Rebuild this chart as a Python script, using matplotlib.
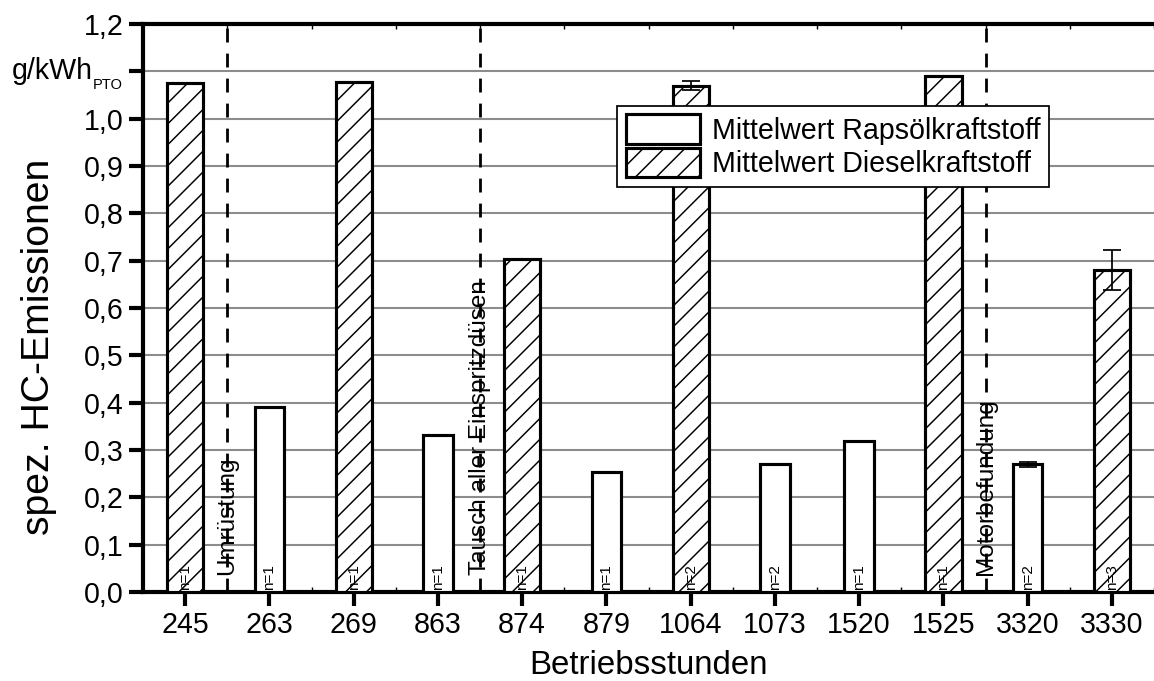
import matplotlib
matplotlib.use("Agg")
import matplotlib.pyplot as plt
from matplotlib.patches import Patch
from matplotlib.ticker import MultipleLocator
import numpy as np

plt.rcParams['font.family'] = ['Liberation Sans', 'DejaVu Sans']
plt.rcParams['hatch.linewidth'] = 0.85

# data
hours = ['245', '263', '269', '863', '874', '879', '1064', '1073', '1520', '1525', '3320', '3330']
fuel = ['D', 'R', 'D', 'R', 'D', 'R', 'D', 'R', 'R', 'D', 'R', 'D']
hc = [1.075, 0.39, 1.078, 0.332, 0.703, 0.253, 1.07, 0.27, 0.32, 1.09, 0.27, 0.68]
hc_err = [0, 0, 0, 0, 0, 0, 0.01, 0, 0, 0, 0.005, 0.043]
n_runs = [1, 1, 1, 1, 1, 1, 2, 2, 1, 1, 2, 3]

events = ['Umrüstung', 'Tausch aller Einspritzdüsen', 'Motorbefundung']
event_pos = [0.5, 3.5, 9.5]

yticks = np.arange(0, 1.21, 0.1)
ylabels = [f'{v:.1f}'.replace('.', ',') for v in yticks]
ylabels[11] = ''  # unit goes there instead, drawn below

# dpi 125 so the hatch spacing comes out like the reference
fig = plt.figure(figsize=(9.232, 5.448), dpi=125)
ax = fig.add_axes([0.124, 0.1307, 0.876, 0.8341])

x = np.arange(len(hours))
for i in range(len(hours)):
    if fuel[i] == 'D':
        ax.bar(x[i], hc[i], width=0.43, facecolor='white', edgecolor='black',
               linewidth=1.8, hatch='//', zorder=3)
    else:
        ax.bar(x[i], hc[i], width=0.35, facecolor='white', edgecolor='black',
               linewidth=1.8, zorder=3)
    if hc_err[i] > 0:
        ax.errorbar(x[i], hc[i], yerr=hc_err[i], fmt='none', ecolor='black',
                    elinewidth=1.0, capsize=5, capthick=1.0, zorder=4)
    ax.text(x[i], 0.005, f'n={n_runs[i]}', rotation=90, ha='center', va='bottom',
            fontsize=8.8, zorder=5)

for pos, lbl in zip(event_pos, events):
    ax.axvline(pos, color='black', linestyle=(0, (5, 4)), linewidth=1.6, zorder=2)
    ax.text(pos, 0.035, lbl, rotation=90, ha='center', va='bottom', fontsize=14, zorder=5)

ax.set_xlim(-0.5, 11.5)
ax.set_ylim(0, 1.2)
ax.set_xticks(x)
ax.set_xticklabels(hours, fontsize=16.5)
ax.set_yticks(yticks)
ax.set_yticklabels(ylabels, fontsize=16.5)
ax.xaxis.set_minor_locator(MultipleLocator(0.5))
ax.tick_params(axis='both', which='major', direction='out', length=8, width=2.4, pad=3)
ax.tick_params(axis='x', which='minor', direction='in', length=3, width=0.8, top=True, bottom=True)
ax.yaxis.grid(True, color='#8c8c8c', linewidth=1.2, zorder=0)
ax.set_axisbelow(True)

# unit label in place of the 1,1 tick
trans = ax.get_yaxis_transform()
ax.text(-0.0495, 1.1, 'g/kWh', transform=trans, ha='right', va='center', fontsize=16.5, clip_on=False)
ax.text(-0.0495, 1.072, 'PTO', transform=trans, ha='left', va='center', fontsize=8.4, clip_on=False)

for side in ['left', 'bottom', 'top']:
    ax.spines[side].set_linewidth(2.4)
ax.spines['right'].set_visible(False)

ax.set_xlabel('Betriebsstunden', fontsize=19, labelpad=6)
ax.set_ylabel('spez. HC-Emissionen', fontsize=22.5)
ax.yaxis.set_label_coords(-0.085, 0.431)

handles = [Patch(facecolor='white', edgecolor='black', linewidth=1.8, label='Mittelwert Rapsölkraftstoff'),
           Patch(facecolor='white', edgecolor='black', linewidth=1.8, hatch='//', label='Mittelwert Dieselkraftstoff')]
leg = ax.legend(handles=handles, loc='upper left', bbox_to_anchor=(0.469, 0.856), fontsize=16.5,
                frameon=True, fancybox=False, edgecolor='black', framealpha=1,
                handlelength=2.6, handleheight=1.2, borderpad=0.3, labelspacing=0.1,
                handletextpad=0.4, borderaxespad=0)
leg.get_frame().set_linewidth(1.0)
leg.set_zorder(6)

fig.savefig('out.png', dpi=125)
